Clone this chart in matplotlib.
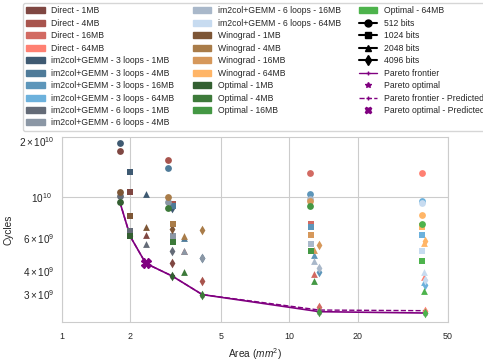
import numpy as np
import matplotlib.pyplot as plt
import seaborn as sns
from matplotlib.lines import Line2D
from matplotlib.patches import Patch

sns.set_style('whitegrid')
plt.rcParams['font.family'] = ['Liberation Sans', 'DejaVu Sans']
plt.rcParams['mathtext.fontset'] = 'custom'
plt.rcParams['mathtext.rm'] = 'Liberation Sans'
plt.rcParams['mathtext.it'] = 'Liberation Sans:italic'

algos = ['Direct', 'im2col+GEMM - 3 loops', 'im2col+GEMM - 6 loops', 'Winograd', 'Optimal']
mems = ['1MB', '4MB', '16MB', '64MB']
bits = [512, 1024, 2048, 4096]
markers = ['o', 's', '^', 'd']

# colours per algorithm, one per memory size
colors = {
    'Direct': ['#7f4742', '#a8544d', '#d26a62', '#ff8072'],
    'im2col+GEMM - 3 loops': ['#3f5a72', '#4f7b99', '#5d96ba', '#6cb1dc'],
    'im2col+GEMM - 6 loops': ['#646b77', '#8b97a5', '#a9b8ca', '#c7dbf0'],
    'Winograd': ['#7d5636', '#a97c49', '#d6985b', '#ffb567'],
    'Optimal': ['#335f31', '#3d7a3a', '#449844', '#4db34c'],
}

# area (mm^2), rows = memory size, cols = bit width
area = [
    [1.80, 2.00, 2.34, 3.06],
    [2.92, 3.08, 3.45, 4.15],
    [12.3, 12.5, 12.9, 13.6],
    [38.4, 38.6, 39.1, 39.7],
]

# cycles (x1e9), rows = memory size, cols = bit width
cycles = {
    'Direct': [
        [17.7, 10.6, 6.28, 4.40],
        [15.8, 9.20, 5.15, 3.53],
        [13.5, 7.20, 3.87, 2.55],
        [13.4, 7.00, 3.70, 2.45],
    ],
    'im2col+GEMM - 3 loops': [
        [19.6, 13.65, 10.4, 8.70],
        [14.3, 8.96, 6.00, 4.70],
        [10.4, 6.90, 4.88, 3.93],
        [9.50, 6.22, 3.49, 3.35],
    ],
    'im2col+GEMM - 6 loops': [
        [10.16, 6.60, 5.58, 5.13],
        [9.40, 6.14, 5.15, 4.72],
        [9.80, 5.60, 4.54, 4.16],
        [9.30, 5.10, 3.96, 3.56],
    ],
    'Winograd': [
        [10.6, 7.90, 6.88, 6.75],
        [10.0, 7.20, 6.20, 6.68],
        [9.55, 6.28, 5.20, 5.53],
        [8.00, 6.90, 5.65, 5.82],
    ],
    'Optimal': [
        [9.40, 6.14, np.nan, 3.76],
        [8.70, 5.70, 3.96, 2.99],
        [8.90, 5.13, 3.52, 2.42],
        [7.12, 4.52, 3.14, 2.38],
    ],
}

pareto_area = [1.80, 2.00, 2.34, 3.06, 4.15, 13.6, 39.7]
pareto_cycles = [9.40, 6.14, 4.40, 3.76, 2.99, 2.42, 2.38]
pred_area = [1.80, 2.00, 2.34, 3.06, 4.15, 13.6, 39.7]
pred_cycles = [9.40, 6.14, 4.40, 3.76, 2.99, 2.47, 2.45]
# predicted optimum that is not covered by a measured point
pred_opt_area = [2.34]
pred_opt_cycles = [4.40]

fig = plt.figure(figsize=(4.83, 3.62), dpi=100)
ax = fig.add_axes([0.128, 0.1105, 0.7995, 0.511])

purple = '#800080'
ax.plot(pareto_area, np.array(pareto_cycles) * 1e9, '-', color=purple, lw=1.2, zorder=2)
ax.plot(pareto_area, np.array(pareto_cycles) * 1e9, '*', color=purple, ms=3.5, zorder=2)
ax.plot(pred_area, np.array(pred_cycles) * 1e9, '--', color=purple, lw=1.0, zorder=2)
ax.plot(pred_opt_area, np.array(pred_opt_cycles) * 1e9, 'X', color=purple, ms=6.5, zorder=2)

z = 3
for a in algos:
    for i, m in enumerate(mems):
        for j, b in enumerate(bits):
            ax.scatter(area[i][j], cycles[a][i][j] * 1e9, marker=markers[j], s=24,
                       color=colors[a][i], linewidths=0, zorder=z)
        z += 0.01

ax.set_xscale('log')
ax.set_yscale('log')
ax.set_xlim(1, 50)
ax.set_ylim(2.13e9, 2.1e10)
ax.set_xticks([1, 2, 5, 10, 20, 50])
ax.set_xticklabels(['1', '2', '5', '10', '20', '50'])
ax.xaxis.set_minor_locator(plt.NullLocator())
ax.tick_params(axis='x', which='both', labelsize=6.4, colors='.15')
ax.tick_params(axis='y', which='both', labelsize=7.2, colors='.15')
ax.set_xlabel('Area ($mm^2$)', fontsize=7.3, color='.15')
ax.set_ylabel('Cycles', fontsize=7.3, color='.15')

handles = []
for a in algos:
    for i, m in enumerate(mems):
        handles.append(Patch(color=colors[a][i], label=a + ' - ' + m))
for j, b in enumerate(bits):
    handles.append(Line2D([], [], color='black', marker=markers[j], ms=5, label=str(b) + ' bits'))
handles.append(Line2D([], [], color=purple, marker='+', ms=3, lw=1, label='Pareto frontier'))
handles.append(Line2D([], [], color=purple, marker='*', ls='', ms=4, label='Pareto optimal'))
handles.append(Line2D([], [], color=purple, marker='+', ms=3, ls='--', lw=1, label='Pareto frontier - Predicted'))
handles.append(Line2D([], [], color=purple, marker='X', ls='', ms=5, label='Pareto optimal - Predicted'))

ax.legend(handles=handles, ncol=3, fontsize=6.2, loc='upper left',
          bbox_to_anchor=(23 / 483, 1 - 3 / 362), bbox_transform=fig.transFigure,
          labelspacing=0.4, handlelength=2.1, columnspacing=2.1, borderaxespad=0)

fig.savefig('out.png', dpi=100)
